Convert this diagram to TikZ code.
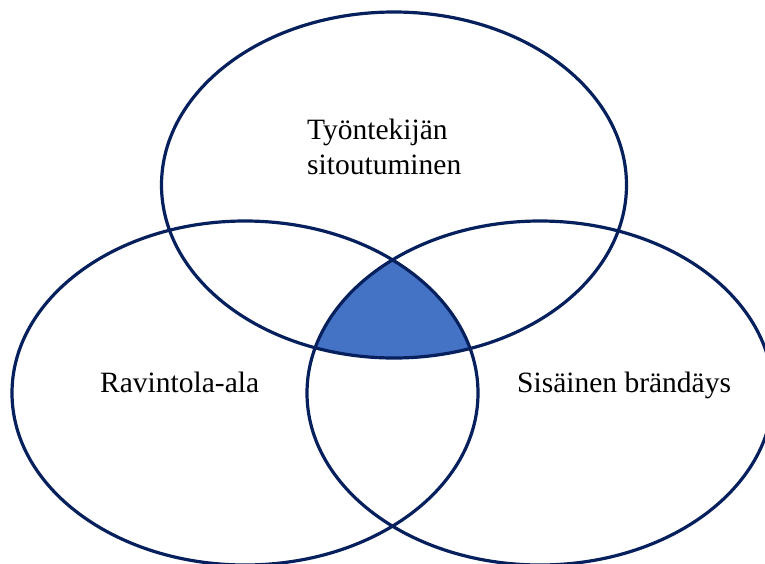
\documentclass[tikz,border=0pt]{standalone}
\usepackage{fontspec}
\setmainfont{Liberation Serif}
\definecolor{ringblue}{RGB}{6,32,94}
\definecolor{coreblue}{HTML}{4472C4}
\tikzset{
  ring/.style={draw=ringblue, line width=3.2pt},
  lbl/.style={font=\fontsize{29.5}{35}\selectfont, inner sep=0pt, text=black}
}
\begin{document}
\begin{tikzpicture}[x=1pt,y=-1pt]
  \useasboundingbox[fill=white] (0,0) rectangle (765,563);
  % shared core of the three sets
  \begin{scope}
    \clip (394,185) ellipse [x radius=232.5, y radius=173];
    \clip (245,393) ellipse [x radius=233, y radius=172];
    \fill[coreblue] (540,393) ellipse [x radius=233, y radius=172];
  \end{scope}
  % the three sets
  \draw[ring] (394,185) ellipse [x radius=232.5, y radius=173];
  \draw[ring] (245,393) ellipse [x radius=233, y radius=172];
  \draw[ring] (540,393) ellipse [x radius=233, y radius=172];
  % labels
  \node[lbl, anchor=base west] (topA) at (307,139) {Työntekijän};
  \node[lbl, anchor=base west] (topB) at (307,174) {sitoutuminen};
  \node[lbl, anchor=base west] (left) at (100,392) {Ravintola-ala};
  \node[lbl, anchor=base west] (right) at (517,392) {Sisäinen brändäys};
\end{tikzpicture}
\end{document}
